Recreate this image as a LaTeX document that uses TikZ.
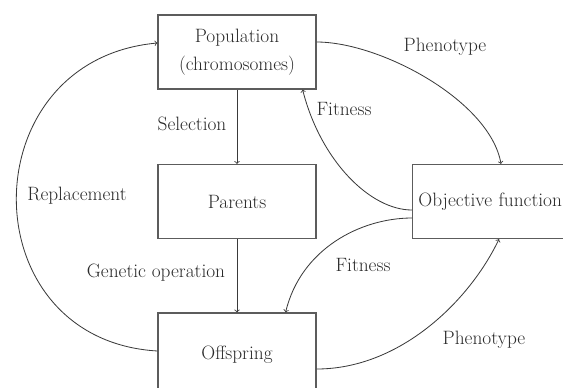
\documentclass[tikz,border=0pt]{standalone}
\usepackage{fontspec}
\usepackage{xcolor}
\usepackage{tikz}
\usetikzlibrary{shapes, arrows, positioning, calc}

\definecolor{boxline}{HTML}{5C5C5C}
\definecolor{arrline}{HTML}{3A3A3A}
\definecolor{txt}{HTML}{2B2B2B}

\tikzset{
  gabox/.style={draw=boxline, line width=1pt, fill=white, text=txt,
    minimum width=4.74cm, minimum height=2.22cm, align=center,
    font=\fontsize{16.5}{19}\selectfont},
  galabel/.style={text=txt, inner sep=0pt, font=\fontsize{16.5}{19}\selectfont},
  gaarrow/.style={->, draw=arrline, line width=0.7pt}
}

\begin{document}
\begin{tikzpicture}[x=0.03cm, y=-0.03cm]
      \useasboundingbox[fill=white] (0,0) rectangle (563,387);

      \node[gabox] (pop) at (237,52) {Population\\[5pt](chromosomes)};
      \node[gabox] (par) at (237,201.5) {Parents};
      \node[gabox, minimum height=2.52cm] (off) at (237,355) {Offspring};
      \node[gabox, anchor=west, minimum width=0pt, text width=7cm, align=left, inner xsep=5pt] (obj) at (412,201.5) {Objective function};

      \draw[gaarrow] (pop) -- (par);
      \draw[gaarrow] (par) -- (off);
      \draw[gaarrow] ($(off.west)+(0,-4)$) .. controls +(-188,-11) and +(-188,17) .. ($(pop.west)+(0,-9)$);
      \draw[gaarrow] ($(pop.east)+(0,-10)$) .. controls +(64,0) and +(-11,-63) .. ($(obj.north west)+(89,0)$);
      \draw[gaarrow] ($(obj.west)+(0,8.5)$) .. controls +(-42,0) and +(18,71) .. ($(pop.south east)+(-14,0)$);
      \draw[gaarrow] ($(obj.west)+(0,16.5)$) .. controls +(-52,0) and +(15,-63) .. ($(off.north east)+(-31,0)$);
      \draw[gaarrow] ($(off.east)+(0,14)$) .. controls +(84,0) and +(-29,61) .. ($(obj.south west)+(87,0)$);

      \node[galabel] (lblsel) at (192,124) {Selection};
      \node[galabel] (lblgen) at (156,273) {Genetic operation};
      \node[galabel] (lblrep) at (77,196) {Replacement};
      \node[galabel] (lblphe1) at (445,47) {Phenotype};
      \node[galabel] (lblfit1) at (344,109) {Fitness};
      \node[galabel] (lblfit2) at (363,265) {Fitness};
      \node[galabel] (lblphe2) at (484,340) {Phenotype};
    \end{tikzpicture}
\end{document}
